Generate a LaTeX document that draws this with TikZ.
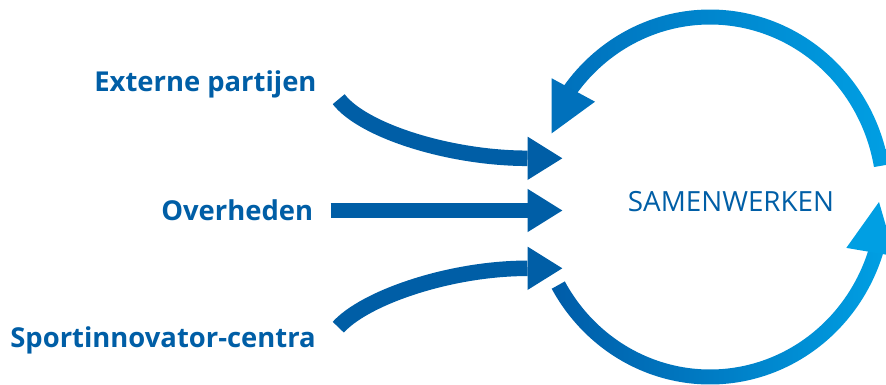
\documentclass[tikz,border=0pt]{standalone}
\usepackage{fontspec}
\setmainfont{Open Sans}
\definecolor{dkblue}{HTML}{005EA6}
\definecolor{midblue}{HTML}{0071BC}
\definecolor{ltblue}{HTML}{009FE3}
\definecolor{botblue}{HTML}{005CA8}
\begin{document}
\begin{tikzpicture}[x=1pt,y=-1pt,
  lbl/.style={font=\fontsize{27.4}{33}\selectfont\bfseries, text=dkblue, inner sep=0pt, anchor=base east},
  shaft/.style={draw=dkblue, line width=15.5pt, line cap=butt},
  headfill/.style={fill=dkblue}]
\clip (0,0) rectangle (886,385);
% labels
\node[lbl] (ext) at (316.7,91.7) {Externe partijen};
\node[lbl] (ovh) at (313.3,220.7) {Overheden};
\node[lbl] (spc) at (316.0,347.7) {Sportinnovator-centra};
\node[font=\fontsize{27.8}{33}\selectfont, text=dkblue, inner sep=0pt, anchor=base] (sam) at (731,211.7) {SAMENWERKEN};
% incoming arrows
\coordinate (s1) at (338.7,99.2);
\coordinate (b1) at (527.5,158.3);
\coordinate (t1) at (562.3,158.3);
\coordinate (s2) at (330.7,210.5);
\coordinate (b2) at (527.5,210.5);
\coordinate (t2) at (562.3,210.5);
\coordinate (s3) at (338.3,327.2);
\coordinate (b3) at (527.5,268.3);
\coordinate (t3) at (562.3,268.3);
\draw[shaft] (s1) .. controls (363,130.8) and (450,158.3) .. (b1);
\draw[shaft] (s2) -- (b2);
\draw[shaft] (s3) .. controls (365,297.6) and (450,268.3) .. (b3);
\fill[headfill] ([yshift=-21.7]b1) -- (t1) -- ([yshift=21.7]b1) -- cycle;
\fill[headfill] ([yshift=-21.7]b2) -- (t2) -- ([yshift=21.7]b2) -- cycle;
\fill[headfill] ([yshift=-21.7]b3) -- (t3) -- ([yshift=21.7]b3) -- cycle;
% cycle arcs
\shade[left color=midblue, right color=ltblue]
  plot[variable=\t, domain=-145:-10, samples=90] ({710+181.5*cos(\t)},{197+187.5*sin(\t)})
  -- plot[variable=\t, domain=-10:-145, samples=90] ({710+166.5*cos(\t)},{197+172.5*sin(\t)})
  -- cycle;
\shade[left color=botblue, right color=ltblue]
  plot[variable=\t, domain=150.7:16, samples=90] ({710+181.5*cos(\t)},{197+187.5*sin(\t)})
  -- plot[variable=\t, domain=16:150.7, samples=90] ({710+166.5*cos(\t)},{197+172.5*sin(\t)})
  -- cycle;
% circle arrowheads
\coordinate (h1a) at (551.7,78.3);
\coordinate (h1b) at (595.0,101.7);
\coordinate (h1t) at (551.7,133.3);
\fill[midblue] (h1a) -- (h1b) -- (h1t) -- cycle;
\coordinate (h2a) at (846.3,247.9);
\coordinate (h2b) at (894.7,256.1);
\coordinate (h2t) at (879.0,202.0);
\fill[ltblue] (h2a) -- (h2b) -- (h2t) -- cycle;
\end{tikzpicture}
\end{document}
